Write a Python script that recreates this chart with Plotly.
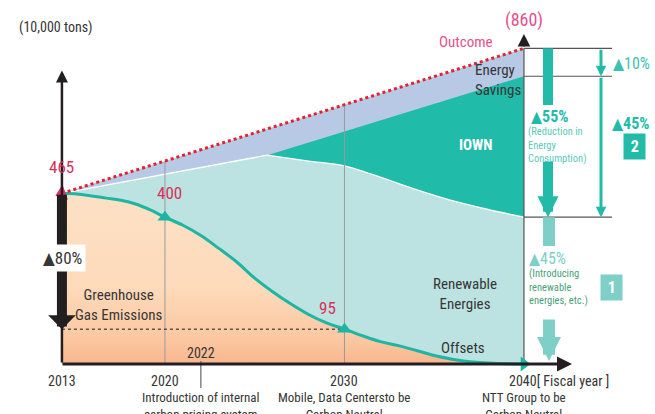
import numpy as np
import plotly.graph_objects as go

W, H = 655, 414
FONT = "Liberation Sans Narrow, Roboto Condensed, DejaVu Sans Condensed, Arial Narrow, sans-serif"

# Greenhouse gas emissions, 10,000 tons per fiscal year
ghg_years = list(range(2013, 2041))
ghg_values = [465, 463, 458, 452, 446, 436, 420, 400, 378, 350, 315, 278, 234, 197,
              164, 135, 112, 95, 77, 61, 50, 37, 23, 13, 6, 3, 1, 0]

# Business-as-usual outcome
outcome_years = [2013, 2040]
outcome_values = [465, 860]

# Upper edge of the renewable-energy band
renew_years = [2013, 2025.7, 2028, 2030, 2032, 2034, 2036, 2038, 2040]
renew_values = [465, 569, 553, 540, 509, 475, 445, 421, 400]

# Upper edge of the IOWN band
iown_years = [2025.7, 2040]
iown_values = [569, 784]

# Milestones on the emission path
milestone_years = [2020, 2030]
milestone_values = [400, 95]

tick_years = [2013, 2020, 2030]
tick_labels = ["2013", "2020", "2030"]

TEAL = "#22BBA9"
LIGHT_TEAL = "#7ECFC8"
RENEW_FILL = "#BCE3E1"
PINK = "#E5508A"
CRIMSON = "#D8315B"
DARK = "#363636"

X_RANGE = [2010.81, 2047.30]
Y_RANGE = [-136.2, 991.8]


def axis_x(year):
    """Years before 2020 are drawn on a compressed scale."""
    y = np.asarray(year, dtype=float)
    return np.where(y < 2020, 2020 - (2020 - y) * 0.82, y)


def xp(px):
    return X_RANGE[0] + px / W * (X_RANGE[1] - X_RANGE[0])


def yp(py):
    return Y_RANGE[1] - py / H * (Y_RANGE[1] - Y_RANGE[0])


x2013 = float(axis_x(2013))
x_out = axis_x(outcome_years)
x_renew = axis_x(renew_years)

fig = go.Figure()

# Energy savings band (under the outcome line)
fig.add_trace(go.Scatter(x=x_out, y=outcome_values, mode="lines", line=dict(width=0),
                         fill="tozeroy", fillcolor="#B8C9E6", hoverinfo="skip"))
# IOWN band
fig.add_trace(go.Scatter(x=axis_x(iown_years), y=iown_values, mode="lines", line=dict(width=0),
                         fill="tozeroy", fillcolor="#21BBA9", hoverinfo="skip"))
# Renewable energies band: straight rise until IOWN starts, then a smooth decline
fig.add_trace(go.Scatter(x=x_renew[:2], y=renew_values[:2], mode="lines",
                         line=dict(color="white", width=1.3),
                         fill="tozeroy", fillcolor=RENEW_FILL, hoverinfo="skip"))
fig.add_trace(go.Scatter(x=x_renew[1:], y=renew_values[1:], mode="lines",
                         line=dict(color="white", width=1.3, shape="spline", smoothing=0.8),
                         fill="tozeroy", fillcolor=RENEW_FILL, hoverinfo="skip"))
# close the join between the two halves of the band
fig.add_trace(go.Scatter(x=[x_renew[1]] * 2, y=[0, renew_values[1] - 3], mode="lines",
                         line=dict(color=RENEW_FILL, width=2), hoverinfo="skip"))
# Greenhouse gas emissions
fig.add_trace(go.Scatter(x=axis_x(ghg_years), y=ghg_values, mode="lines",
                         line=dict(color="#1FB5A2", width=3, shape="spline", smoothing=1),
                         fill="tozeroy",
                         fillgradient=dict(type="vertical", start=0, stop=465,
                                           colorscale=[[0, "#F8B68E"], [0.15, "#FBC8A2"],
                                                       [0.45, "#FDDABA"], [1, "#FDE1C5"]]),
                         hoverinfo="skip"))

# Guide lines at the milestone years, up to the outcome line
for yr in milestone_years:
    top = float(np.interp(axis_x(yr), x_out, outcome_values))
    fig.add_trace(go.Scatter(x=[yr, yr], y=[0, top], mode="lines",
                             line=dict(color="#9A9A9A", width=1), hoverinfo="skip"))

# Level reached in 2030
fig.add_trace(go.Scatter(x=[x2013, 2030], y=[milestone_values[1]] * 2, mode="lines",
                         line=dict(color="#555555", width=1.5, dash="3px,3px"), hoverinfo="skip"))

# 2040 reference line
fig.add_trace(go.Scatter(x=[2040, 2040], y=[0, outcome_values[-1]], mode="lines",
                         line=dict(color="#555555", width=1.2), hoverinfo="skip"))

# Outcome (dotted)
fig.add_trace(go.Scatter(x=x_out, y=outcome_values, mode="lines",
                         line=dict(color="#E2232F", width=3, dash="dot"), hoverinfo="skip"))

# Markers
fig.add_trace(go.Scatter(x=axis_x(milestone_years), y=milestone_values, mode="markers",
                         marker=dict(symbol="triangle-up", size=13, color="#1FB5A2"), hoverinfo="skip"))
fig.add_trace(go.Scatter(x=[2040], y=[ghg_values[-1]], mode="markers",
                         marker=dict(symbol="triangle-right", size=13, color="#1FB5A2"), hoverinfo="skip"))

# Horizontal reference lines on the right
for level in [outcome_values[-1], iown_values[-1], renew_values[-1]]:
    fig.add_shape(type="line", x0=2040, x1=xp(612), y0=level, y1=level,
                  line=dict(color="#555555", width=1.2))


def arrow(x, y, ax, ay, width, size, color, head=2):
    fig.add_annotation(x=x, y=y, ax=ax, ay=ay, xref="x", yref="y", axref="x", ayref="y",
                       text="", showarrow=True, arrowhead=head, arrowwidth=width,
                       arrowsize=size, arrowcolor=color)


# Axes
arrow(x2013, 800, x2013, 0, 2.5, 0.96, "#231F20")
arrow(xp(572), 0, x2013 - 0.05, 0, 3, 1.0, "#231F20")
# Arrowhead above the 2040 outcome
arrow(2040, yp(34), 2040, outcome_values[-1], 1.2, 2.1, "#231F20")
# 80% reduction arrow
arrow(x2013, milestone_values[1], x2013, outcome_values[0], 10, 0.46, "#231F20", head=1)

# 55% reduction (energy consumption)
fig.add_shape(type="line", x0=xp(548), x1=xp(548), y0=outcome_values[-1], y1=yp(105),
              line=dict(color=TEAL, width=10))
arrow(xp(548), renew_values[-1], xp(548), yp(160), 10, 0.42, TEAL)
# 45% reduction (renewables)
fig.add_shape(type="line", x0=xp(549), x1=xp(549), y0=renew_values[-1], y1=yp(246),
              line=dict(color=LIGHT_TEAL, width=12))
arrow(xp(549), yp(361), xp(549), yp(318), 12, 0.4, LIGHT_TEAL)
# 10% and 45% thin arrows
arrow(xp(601), iown_values[-1], xp(601), outcome_values[-1], 3, 0.7, TEAL)
arrow(xp(601), renew_values[-1], xp(601), iown_values[-1], 3, 0.7, TEAL)

# Start-point marker on the outcome line
fig.add_trace(go.Scatter(x=[x2013], y=[outcome_values[0]], mode="markers",
                         marker=dict(symbol="triangle-left", size=14, angle=-20, color=CRIMSON),
                         hoverinfo="skip"))


def label(x, y, text, size=14, color=DARK, xanchor="center", yanchor="middle",
          xshift=0, yshift=0, bg=None, pad=1):
    fig.add_annotation(x=x, y=y, xref="x", yref="y", text=text, showarrow=False,
                       xanchor=xanchor, yanchor=yanchor, xshift=xshift, yshift=yshift,
                       font=dict(family=FONT, size=size, color=color),
                       bgcolor=bg, borderpad=pad, align="left" if xanchor == "left" else "center")


label(xp(17), yp(27), "(10,000 tons)", size=14, xanchor="left")
label(2040, outcome_values[-1], f"({outcome_values[-1]})", size=18, color=PINK, yshift=28)
label(xp(466), yp(42), "Outcome", size=15, color=PINK)
label(xp(473), yp(80), "Energy<br>Savings", size=15, xanchor="left")
label(xp(476), yp(145), "<b>IOWN</b>", size=15, color="white")
label(xp(529), yp(116), "<b>▲55%</b>", size=16, color=TEAL, xanchor="left")
label(xp(526), yp(145), "(Reduction in<br>Energy<br>Consumption)", size=10.5, color="#5CC9BB",
      xanchor="left")
label(xp(610), yp(123), "<b>▲45%</b>", size=16, color=TEAL, xanchor="left")
label(xp(634), yp(146), "<b> 2 </b>", size=16, color="white", bg=TEAL, pad=3)
label(xp(611), yp(63), "▲10%", size=16, color="#3EC1B1", xanchor="left")
label(xp(527), yp(258), "▲45%", size=16, color=LIGHT_TEAL, xanchor="left")
label(xp(527), yp(287), "(Introducing<br>renewable<br>energies, etc.)", size=10.5, color="#4A9F7B",
      xanchor="left")
label(xp(611), yp(287), "<b> 1 </b>", size=16, color="white", bg=LIGHT_TEAL, pad=3)

label(x2013, outcome_values[0], str(outcome_values[0]), size=17, color=CRIMSON, yshift=26)
label(milestone_years[0], milestone_values[0], str(milestone_values[0]), size=17, color=CRIMSON,
      xshift=5, yshift=24)
label(milestone_years[1], milestone_values[1], str(milestone_values[1]), size=17, color=CRIMSON,
      xshift=-17, yshift=21)
label(x2013, yp(258), "▲80%", size=17, xshift=1, bg="white", pad=3)

label(xp(118), yp(305), "Greenhouse<br>Gas Emissions", size=15)
label(xp(465), yp(294), "Renewable<br>Energies", size=15)
label(xp(463), yp(348), "Offsets", size=15)
label(2022, yp(353), "2022", size=14)
fig.add_shape(type="line", x0=2022, x1=2022, y0=yp(361), y1=yp(388),
              line=dict(color="#666666", width=1.2))

for yr, txt in zip(tick_years, tick_labels):
    label(float(axis_x(yr)), yp(381), txt, size=14)
label(2040, yp(381), "2040[ Fiscal year ]", size=14, xanchor="left", xshift=-17)

label(2022, yp(406), "Introduction of internal<br>carbon pricing system", size=13)
label(2030, yp(406), "Mobile, Data Centersto be<br>Carbon Neutral", size=13)
label(2040, yp(406), "NTT Group to be<br>Carbon Neutral", size=13)

fig.update_layout(
    width=W, height=H, margin=dict(l=0, r=0, t=0, b=0),
    paper_bgcolor="white", plot_bgcolor="white", showlegend=False,
    xaxis=dict(range=X_RANGE, visible=False, fixedrange=True),
    yaxis=dict(range=Y_RANGE, visible=False, fixedrange=True),
    font=dict(family=FONT, color=DARK),
)

fig.write_html("out.html")
